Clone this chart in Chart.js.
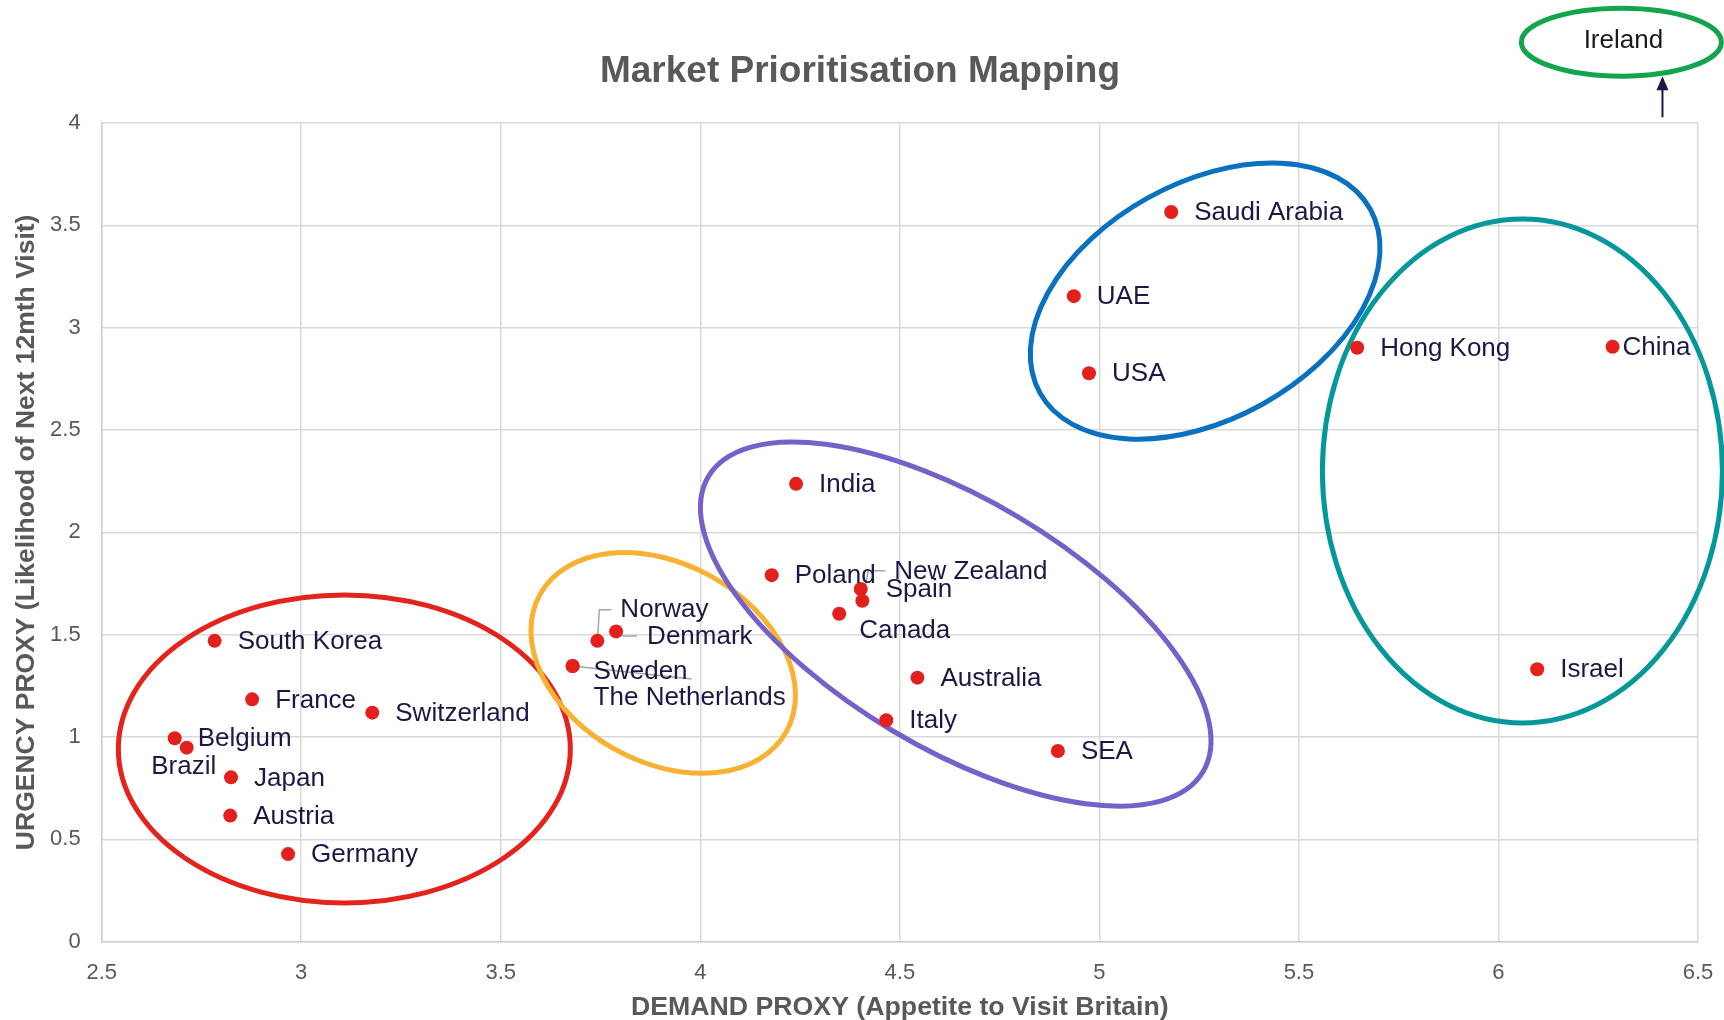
<!DOCTYPE html>
<html><head><meta charset="utf-8">
<script src="https://cdn.jsdelivr.net/npm/chart.js@4.4.1/dist/chart.umd.min.js"></script>
<style>html,body{margin:0;padding:0;background:#fff;} #wrap{width:1724px;height:1020px;}</style>
</head><body><div id="wrap"><canvas id="c" width="1724" height="1020"></canvas></div>
<script>
// ---------- data ----------
const markets = ['South Korea','France','Switzerland','Belgium','Brazil','Japan','Austria','Germany',
  'Norway','Denmark','Sweden','The Netherlands','Poland','Spain','New Zealand','Canada','India',
  'Australia','Italy','SEA','Saudi Arabia','UAE','USA','Hong Kong','China','Israel'];
const demand  = [2.783,2.877,3.178,2.683,2.713,2.824,2.822,2.967,
  3.742,3.789,3.680,3.680,4.179,4.402,4.406,4.348,4.240,
  4.544,4.466,4.896,5.180,4.936,4.974,5.646,6.286,6.097];
const urgency = [1.470,1.184,1.119,0.994,0.948,0.803,0.616,0.428,
  1.470,1.516,1.347,1.347,1.791,1.723,1.666,1.602,2.237,
  1.290,1.082,0.932,3.565,3.154,2.777,2.902,2.907,1.331];
const xTickValues = [2.5,3,3.5,4,4.5,5,5.5,6,6.5];
const yTickValues = [0,0.5,1,1.5,2,2.5,3,3.5,4];
const offChartMarket = 'Ireland';
const chartTitle = 'Market Prioritisation Mapping';
const xTitle = 'DEMAND PROXY (Appetite to Visit Britain)';
const yTitle = 'URGENCY PROXY (Likelihood of Next 12mth Visit)';

// ---------- annotation styling ----------
const FONT = '"Liberation Sans", Arial, sans-serif';
const groups = [
  {cx:3.108, cy:0.942, rx:226, ry:154, rot:0,     color:'#e3231c'},
  {cx:3.907, cy:1.362, rx:141, ry:99,  rot:29.1,  color:'#f9b133'},
  {cx:4.640, cy:1.552, rx:288, ry:124, rot:30.85, color:'#7561c9'},
  {cx:5.265, cy:3.130, rx:189, ry:118, rot:-29.05,color:'#0a70c0'},
  {cx:6.060, cy:2.300, rx:200, ry:252, rot:0,     color:'#05989a'}
];
const ireland = {cx:6.308, cy:4.395, rx:100, ry:34, color:'#12a54d', arrowX:6.411, arrowFrom:4.028, arrowTo:4.229};
const labelStyle = {
  'Brazil': {dx:-3, dy:19, align:'center'},
  'China': {dx:10, dy:1},
  'Canada': {dx:20, dy:17},
  'Norway': {dx:23, dy:-31, leader:[[2,-31],[14,-31]]},
  'Denmark': {dx:31, dy:5, leader:[[7,4.5],[21,4.5]]},
  'Sweden': {dx:21, dy:6, leader:[[119,13]]},
  'The Netherlands': {dx:21, dy:32},
  'Spain': {dx:25, dy:1},
  'New Zealand': {dx:32, dy:-29, leader:[[6,-30],[23,-30]]}
};

const overlay = {
  id:'overlay',
  beforeDatasetsDraw(chart){
    const {ctx, scales:{x,y}} = chart;
    ctx.save();
    groups.forEach(g=>{
      ctx.beginPath();
      ctx.ellipse(x.getPixelForValue(g.cx), y.getPixelForValue(g.cy), g.rx, g.ry, g.rot*Math.PI/180, 0, Math.PI*2);
      ctx.lineWidth = 5; ctx.strokeStyle = g.color; ctx.stroke();
    });
    const meta = chart.getDatasetMeta(0);
    ctx.strokeStyle = '#a6a6a6'; ctx.lineWidth = 1.5;
    markets.forEach((m,i)=>{
      const s = labelStyle[m];
      if (!s || !s.leader) return;
      const p = meta.data[i];
      ctx.beginPath(); ctx.moveTo(p.x, p.y);
      s.leader.forEach(pt=>ctx.lineTo(p.x+pt[0], p.y+pt[1]));
      ctx.stroke();
    });
    ctx.restore();
  },
  afterDatasetsDraw(chart){
    const {ctx} = chart;
    const meta = chart.getDatasetMeta(0);
    ctx.save();
    ctx.font = '26px ' + FONT;
    ctx.fillStyle = '#1c1846';
    ctx.textBaseline = 'middle';
    markets.forEach((m,i)=>{
      const p = meta.data[i];
      const s = labelStyle[m] || {dx:23, dy:1};
      ctx.textAlign = s.align || 'left';
      ctx.fillText(m, p.x + s.dx, p.y + s.dy);
    });
    ctx.restore();
  },
  afterDraw(chart){
    const {ctx, scales:{x,y}} = chart;
    ctx.save();
    ctx.font = 'bold 37px ' + FONT;
    ctx.fillStyle = '#595959';
    ctx.textAlign = 'center'; ctx.textBaseline = 'middle';
    ctx.fillText(chartTitle, 860, 72);
    const ix = x.getPixelForValue(ireland.cx), iy = y.getPixelForValue(ireland.cy);
    ctx.beginPath(); ctx.ellipse(ix, iy, ireland.rx, ireland.ry, 0, 0, Math.PI*2);
    ctx.lineWidth = 5; ctx.strokeStyle = ireland.color; ctx.stroke();
    ctx.font = '26px ' + FONT; ctx.fillStyle = '#1a1a1a';
    ctx.fillText(offChartMarket, ix+2, iy-1);
    const ax = x.getPixelForValue(ireland.arrowX);
    const a0 = y.getPixelForValue(ireland.arrowFrom), a1 = y.getPixelForValue(ireland.arrowTo);
    ctx.strokeStyle = '#1c1846'; ctx.fillStyle = '#1c1846'; ctx.lineWidth = 2;
    ctx.beginPath(); ctx.moveTo(ax, a0); ctx.lineTo(ax, a1+10); ctx.stroke();
    ctx.beginPath(); ctx.moveTo(ax, a1); ctx.lineTo(ax-6, a1+14); ctx.lineTo(ax+6, a1+14); ctx.closePath(); ctx.fill();
    ctx.restore();
  }
};

const fmt = v => String(Math.round(v*10)/10);

new Chart(document.getElementById('c'), {
  type:'scatter',
  data:{ datasets:[{
    data: demand.map((d,i)=>({x:d, y:urgency[i]})),
    backgroundColor:'#e3201b', borderColor:'#e3201b', pointRadius:7, pointHoverRadius:7, borderWidth:0
  }]},
  options:{
    responsive:false, animation:false, devicePixelRatio:1,
    layout:{padding:{left:0, right:26, top:123, bottom:0}},
    plugins:{legend:{display:false}, tooltip:{enabled:false}, title:{display:false}},
    scales:{
      x:{type:'linear', min:2.5, max:6.5,
        afterBuildTicks:s=>{s.ticks = xTickValues.map(v=>({value:v}));},
        afterFit:s=>{s.height = 78.3; s.paddingLeft = 0; s.paddingRight = 0;},
        grid:{color:'#d9d9d9', lineWidth:1.5, drawTicks:false},
        border:{color:'#d0d0d0', width:1.5},
        ticks:{padding:18, color:'#595959', font:{family:FONT, size:22}, callback:fmt},
        title:{display:true, text:xTitle, color:'#595959', font:{family:FONT, size:26.7, weight:'bold', lineHeight:0.95}, padding:0}
      },
      y:{type:'linear', min:0, max:4,
        afterBuildTicks:s=>{s.ticks = yTickValues.map(v=>({value:v}));},
        afterFit:s=>{s.width = 101.7; s.paddingTop = 0; s.paddingBottom = 0;},
        grid:{color:'#d9d9d9', lineWidth:1.5, drawTicks:false},
        border:{color:'#d0d0d0', width:1.5},
        ticks:{padding:21, color:'#595959', font:{family:FONT, size:22}, callback:fmt},
        title:{display:true, text:yTitle, color:'#595959', font:{family:FONT, size:26.5, weight:'bold', lineHeight:1.2}, padding:{top:11, bottom:0}}
      }
    }
  },
  plugins:[overlay]
});
</script></body></html>
